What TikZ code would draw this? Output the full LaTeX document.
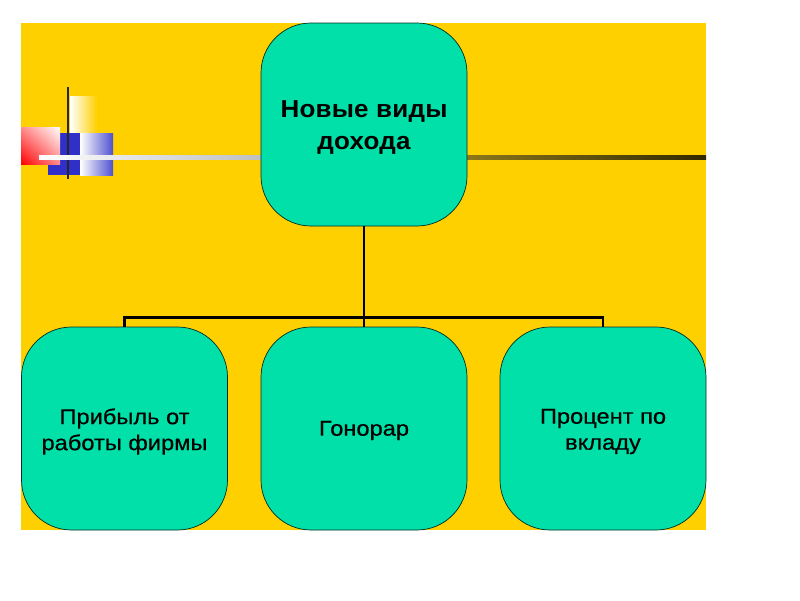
\documentclass[tikz,border=0pt]{standalone}
\usepackage{fontspec}
\usetikzlibrary{shadings}
\setmainfont{Liberation Sans}
\newfontfamily\topfont[FakeStretch=1.06,LetterSpace=1]{Liberation Sans Bold}
\newfontfamily\lowfont[FakeStretch=1.1,FakeBold=0.5]{Liberation Sans}
\definecolor{bgyellow}{HTML}{FFD000}
\definecolor{boxgreen}{HTML}{00E0A8}
\definecolor{barblue}{HTML}{3030C8}
\tikzset{
	incomebox/.style={draw=black!80!boxgreen,line width=0.7pt,fill=boxgreen,rounded corners=50pt,
		minimum width=206pt,minimum height=203pt,inner sep=0pt},
	toptext/.style={align=center,inner sep=0pt,font=\topfont\fontsize{24.5}{32}\selectfont},
	lowtext/.style={align=center,inner sep=0pt,font=\lowfont\fontsize{21.5}{26}\selectfont},
	link/.style={draw=black,line width=2.8pt}
}
\begin{document}
\begin{tikzpicture}[x=1pt,y=-1pt]
	\useasboundingbox (0,0) rectangle (800,600);
	\fill[bgyellow] (21,23) rectangle (706,530);
	% square marks
	\shade[left color=white,right color=bgyellow] (70,96) rectangle (97,133);
	\fill[barblue] (48,133) rectangle (80,175);
	\shade[left color=white,right color=barblue!85] (80,133) rectangle (113,175);
	\shade[lower left=red,upper right=white,lower right=red!45!white,upper left=red!45!white] (21,127) rectangle (60,164);
	\draw[black!85,line width=2pt] (68,87) -- (68,179);
	% long rules
	\shade[left color=white,right color=black!25] (39,155.8) rectangle (261,159.2);
	\shade[left color=black!50!bgyellow!90!white,right color=black!80!bgyellow] (467,155.8) rectangle (706,159.2);
	% boxes
	\node[incomebox] (top) at (364,124.5) {};
	\node[incomebox] (left) at (124.5,428.5) {};
	\node[incomebox] (mid) at (364,428.5) {};
	\node[incomebox] (right) at (603,428.5) {};
	\node[toptext] (toplabel) at ([yshift=-3pt]top.center) {Новые виды\\дохода};
	\node[lowtext] (leftlabel) at ([yshift=-3pt]left.center) {Прибыль от\\работы фирмы};
	\node[lowtext] (midlabel) at ([yshift=-2pt]mid.center) {Гонорар};
	\node[lowtext] (rightlabel) at ([yshift=-3pt]right.center) {Процент по\\вкладу};
	% links
	\coordinate (bar) at (364,317.5);
	\draw[link] (top.south) -- (mid.north);
	\draw[link] (left.north) |- (bar) -| (right.north);
\end{tikzpicture}
\end{document}
